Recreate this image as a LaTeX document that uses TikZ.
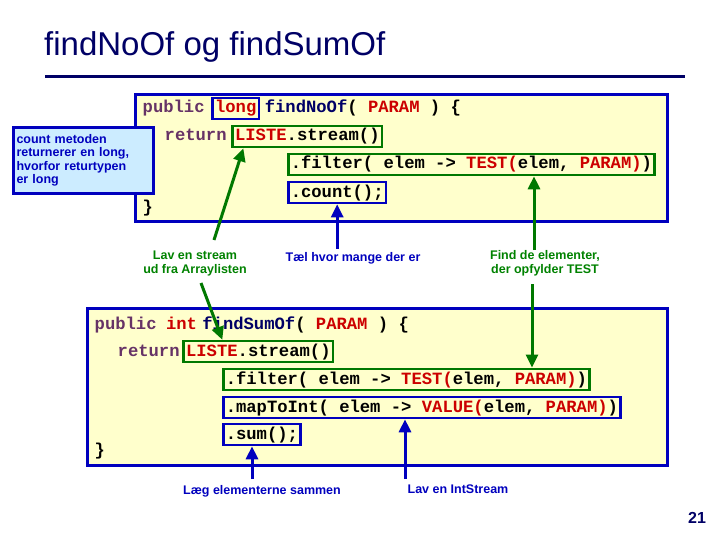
\documentclass[tikz,border=0pt]{standalone}
\usepackage{fontspec}
\setmainfont{Liberation Sans}
\newfontfamily\codefont{Liberation Mono}
\usetikzlibrary{arrows.meta}
\definecolor{navy}{RGB}{0,0,102}
\definecolor{bbord}{RGB}{0,0,190}
\definecolor{gbord}{RGB}{0,120,0}
\definecolor{kw}{RGB}{102,51,102}
\definecolor{rd}{RGB}{204,0,0}
\definecolor{yel}{RGB}{255,255,204}
\definecolor{lblue}{RGB}{204,236,255}
\definecolor{tgreen}{RGB}{0,130,0}
\newcommand{\R}[1]{\textcolor{rd}{#1}}
\newcommand{\K}[1]{\textcolor{kw}{#1}}
\newcommand{\N}[1]{\textcolor{navy}{#1}}
\tikzset{
 code/.style={font=\codefont\bfseries\fontsize{17.2}{19}\selectfont, inner sep=2.5pt, anchor=base west},
 gbox/.style={code, draw=gbord, line width=2.5pt},
 bbox/.style={code, draw=bbord, line width=2.5pt},
 panel/.style={draw=bbord, line width=3pt, fill=yel},
 lbl/.style={font=\bfseries\fontsize{12.5}{14}\selectfont, align=center, inner sep=1pt},
 garr/.style={draw=gbord, line width=3pt, -{Triangle[length=13pt,width=12pt]}},
 barr/.style={draw=bbord, line width=3pt, -{Triangle[length=13pt,width=12pt]}},
}
\begin{document}
\begin{tikzpicture}[x=1pt,y=-1pt]
\useasboundingbox (0,0) rectangle (720,540);
\fill[white] (0,0) rectangle (720,540);
% title
\node[anchor=west, font=\fontsize{33}{36}\selectfont, text=navy, inner sep=0] (title) at (44,47) {findNoOf og findSumOf};
\draw[navy, line width=3pt] (45,77) coordinate (r1) -- (685,77) coordinate (r2);
% top panel
\draw[panel] (135,95) rectangle (667,222);
\node[code] (p1) at (140,113) {\K{public}};
\node[bbox] (lng) at ([xshift=4pt]p1.base east) {\R{long}};
\node[code] (fn1) at ([xshift=2pt]lng.base east) {\N{findNoOf}( \R{PARAM} ) \{};
\node[code] (ret1) at (162,141) {\K{return}};
\node[gbox] (ls1) at ([xshift=2pt]ret1.base east) {\R{LISTE}.stream()};
\node[gbox] (fl1) at (287,169) {.filter( elem -> \R{TEST(}elem, \R{PARAM)})};
\node[bbox] (cnt) at (287,197) {.count();};
\node[code] (cb1) at (140,212) {\}};
% note
\node[draw=bbord, line width=3pt, fill=lblue, anchor=north west, minimum width=140pt, minimum height=66pt, text width=134pt, align=left, inner sep=3pt, font=\bfseries\fontsize{12.5}{13.5}\selectfont, text=bbord] (note) at (12,126) {count metoden\\returnerer en long,\\hvorfor returtypen\\er long};
% labels top
\node[lbl, text=tgreen] (lav) at (195,263) {Lav en stream\\ud fra Arraylisten};
\node[lbl, text=bbord] (tael) at (353,258) {Tæl hvor mange der er};
\node[lbl, text=tgreen] (find) at (545,263) {Find de elementer,\\der opfylder TEST};
\coordinate (a1) at (214,240);
\draw[garr] (a1) -- ([xshift=12pt]ls1.south west);
\draw[barr] (tael.north -| cnt.south) ++(0,-2) -- ([xshift=0pt]cnt.south);
\coordinate (a3) at (534,250);
\draw[garr] (a3) -- (a3 |- fl1.south);
% bottom panel
\draw[panel] (87,308) rectangle (667,465);
\node[code] (p2) at (92,329) {\K{public}};
\node[code] (it) at ([xshift=4pt]p2.base east) {\R{int}};
\node[code] (fn2) at ([xshift=0pt]it.base east) {\N{findSumOf}( \R{PARAM} ) \{};
\node[code] (ret2) at (115,356) {\K{return}};
\node[gbox] (ls2) at ([xshift=0pt]ret2.base east) {\R{LISTE}.stream()};
\node[gbox] (fl2) at (222,384) {.filter( elem -> \R{TEST(}elem, \R{PARAM)})};
\node[bbox] (mp) at (222,412) {.mapToInt( elem -> \R{VALUE(}elem, \R{PARAM)})};
\node[bbox] (sm) at (222,439) {.sum();};
\node[code] (cb2) at (92,455) {\}};
\coordinate (a4) at (201,283);
\draw[garr] (a4) -- ([xshift=40pt]ls2.north west);
\coordinate (a5) at (532,284);
\draw[garr] (a5) -- (a5 |- fl2.north);
% bottom labels
\node[lbl, text=bbord] (laeg) at (262,491) {Læg elementerne sammen};
\node[lbl, text=bbord] (intst) at (458,489) {Lav en IntStream};
\coordinate (a6) at (252,479);
\draw[barr] (a6) -- (a6 |- sm.south);
\coordinate (a7) at (405,479);
\draw[barr] (a7) -- (a7 |- mp.south);
% page number
\node[font=\bfseries\fontsize{16}{18}\selectfont, text=navy] (pg) at (697,518) {21};
\end{tikzpicture}
\end{document}
